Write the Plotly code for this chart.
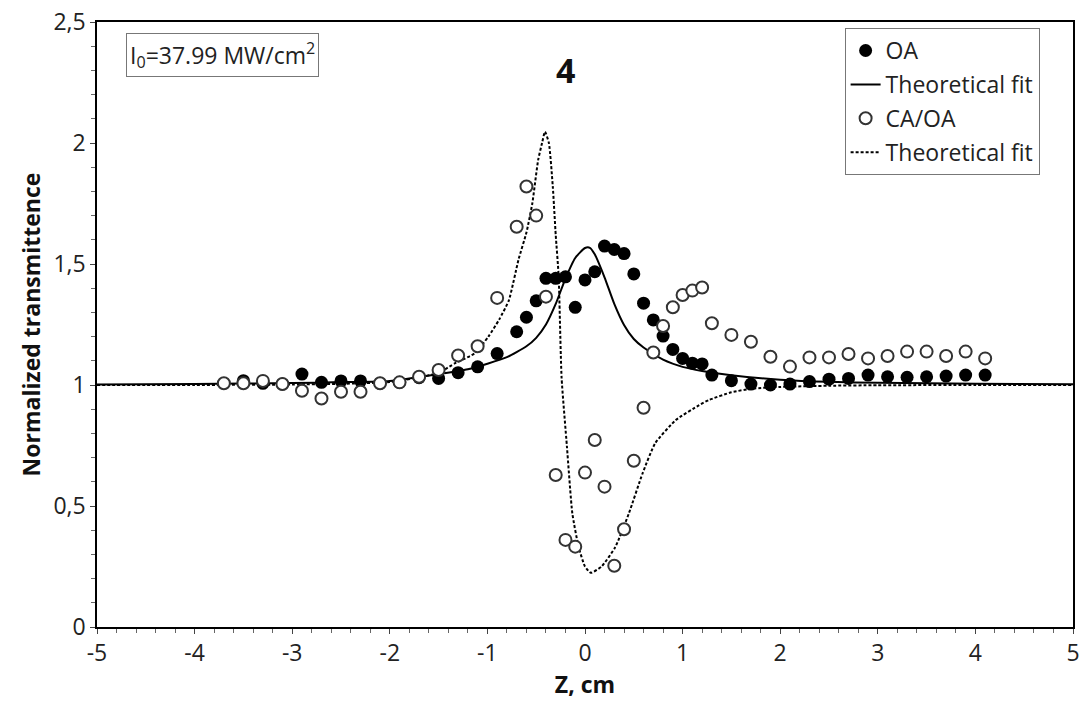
import plotly.graph_objects as go

# ---------------- data ----------------
oa_z = [-3.5, -3.3, -3.1, -2.9, -2.7, -2.5, -2.3, -2.1, -1.9, -1.7, -1.5, -1.3, -1.1, -0.9,
        -0.7, -0.6, -0.5, -0.4, -0.3, -0.2, -0.1, 0.0, 0.1, 0.2, 0.3, 0.4, 0.5, 0.6, 0.7, 0.8,
        0.9, 1.0, 1.1, 1.2, 1.3,
        1.5, 1.7, 1.9, 2.1, 2.3, 2.5, 2.7, 2.9, 3.1, 3.3, 3.5, 3.7, 3.9, 4.1]
oa_t = [1.018, 1.007, 1.004, 1.045, 1.011, 1.017, 1.017, 1.007, 1.011, 1.03, 1.027, 1.051, 1.075, 1.13,
        1.22, 1.28, 1.348, 1.441, 1.441, 1.447, 1.321, 1.434, 1.468, 1.574, 1.56, 1.543, 1.459, 1.338,
        1.269, 1.202, 1.147, 1.11, 1.09, 1.087, 1.041,
        1.018, 1.004, 1.0, 1.004, 1.014, 1.024, 1.027, 1.041, 1.034, 1.032, 1.034, 1.037, 1.041, 1.041]

ca_z = [-3.7, -3.5, -3.3, -3.1, -2.9, -2.7, -2.5, -2.3, -2.1, -1.9, -1.7, -1.5, -1.3, -1.1, -0.9,
        -0.7, -0.6, -0.5, -0.4, -0.3, -0.2, -0.1, 0.0, 0.1, 0.2, 0.3, 0.4, 0.5, 0.6, 0.7, 0.8,
        0.9, 1.0, 1.1, 1.2, 1.3,
        1.5, 1.7, 1.9, 2.1, 2.3, 2.5, 2.7, 2.9, 3.1, 3.3, 3.5, 3.7, 3.9, 4.1]
ca_t = [1.007, 1.007, 1.017, 1.004, 0.976, 0.944, 0.972, 0.972, 1.007, 1.011, 1.034, 1.062, 1.122, 1.16, 1.36,
        1.654, 1.82, 1.70, 1.365, 0.628, 0.36, 0.332, 0.638, 0.773, 0.58, 0.253, 0.404, 0.687, 0.906,
        1.134, 1.244, 1.321, 1.372, 1.39, 1.403, 1.255,
        1.207, 1.179, 1.117, 1.076, 1.114, 1.114, 1.128, 1.11, 1.12, 1.138, 1.138, 1.12, 1.138, 1.11]

fit_oa_z = [-5, -4, -3, -2.5, -2, -1.5, -1.2, -1.0, -0.8, -0.6, -0.5, -0.4, -0.3, -0.2, -0.1,
            0.0, 0.05, 0.1, 0.2, 0.3, 0.4, 0.5, 0.6, 0.8, 1.0, 1.2, 1.5, 2.0, 2.5, 3, 4, 5]
fit_oa_t = [1.002, 1.004, 1.008, 1.012, 1.017, 1.045, 1.065, 1.088, 1.115, 1.16, 1.195, 1.25, 1.335,
            1.44, 1.525, 1.566, 1.567, 1.54, 1.445, 1.335, 1.248, 1.19, 1.155, 1.105, 1.075, 1.058,
            1.04, 1.022, 1.013, 1.009, 1.005, 1.003]

fit_ca_z = [-5, -4, -3, -2.5, -2, -1.67, -1.5, -1.33, -1.13, -0.99, -0.88, -0.78, -0.68, -0.6, -0.54,
            -0.48, -0.44, -0.41, -0.37, -0.33, -0.30, -0.27, -0.24, -0.185, -0.13, -0.065, 0.0, 0.06,
            0.17, 0.31, 0.45, 0.59, 0.72, 0.93, 1.17, 1.27, 1.5, 1.72, 2.0, 2.5, 3, 4, 5]
fit_ca_t = [1.0, 1.0, 1.002, 1.005, 1.012, 1.034, 1.05, 1.09, 1.131, 1.2, 1.27, 1.35, 1.52, 1.63, 1.75,
            1.93, 2.0, 2.047, 2.0, 1.82, 1.62, 1.45, 1.03, 0.745, 0.47, 0.33, 0.25, 0.224,
            0.25, 0.33, 0.47, 0.635, 0.76, 0.855, 0.917, 0.938, 0.97, 0.985, 0.992, 0.997, 0.999, 1.0, 1.0]

x_ticks = [-5, -4, -3, -2, -1, 0, 1, 2, 3, 4, 5]
y_ticks = [0, 0.5, 1, 1.5, 2, 2.5]

FONT = "Open Sans"
fig = go.Figure()

fig.add_trace(go.Scatter(x=fit_oa_z, y=fit_oa_t, mode="lines", name="Theoretical fit",
                         line=dict(color="black", width=2, shape="spline", smoothing=0.6),
                         legendrank=2, legendgroup="b"))
fig.add_trace(go.Scatter(x=fit_ca_z, y=fit_ca_t, mode="lines", name="Theoretical fit",
                         line=dict(color="black", width=2, dash="3px,2px", shape="spline", smoothing=0.5),
                         legendrank=4, legendgroup="d"))
fig.add_trace(go.Scatter(x=oa_z, y=oa_t, mode="markers", name="OA",
                         marker=dict(symbol="circle", size=13, color="black",
                                     line=dict(width=0)),
                         legendrank=1, legendgroup="a"))
fig.add_trace(go.Scatter(x=ca_z, y=ca_t, mode="markers", name="CA/OA",
                         marker=dict(symbol="circle", size=12, color="white",
                                     line=dict(width=2, color="#333333")),
                         legendrank=3, legendgroup="c"))

fig.add_annotation(x=-0.2, y=2.30, xref="x", yref="y", text="<b>4</b>", showarrow=False,
                   font=dict(family=FONT, size=34, color="#111111"))
fig.add_annotation(x=-3.71, y=2.365, xref="x", yref="y",
                   text="I<sub>0</sub>=37.99 MW/cm<sup>2</sup>", showarrow=False,
                   font=dict(family=FONT, size=23, color="#222222"),
                   bordercolor="#777777", borderwidth=1, borderpad=3, bgcolor="white")

axis_common = dict(showgrid=False, zeroline=False, showline=True, linecolor="black", linewidth=1.5,
                   mirror=True, ticks="outside", ticklen=5, tickcolor="#444444", tickwidth=1,
                   automargin=False,
                   tickfont=dict(family=FONT, size=23, color="#222222"))

fig.update_xaxes(range=[-5, 5], tickvals=x_ticks, ticktext=[str(v) for v in x_ticks],
                 minor=dict(dtick=0.2, ticks="outside", ticklen=4, tickcolor="#666666"),
                 title=dict(text="<b>Z, cm</b>", font=dict(family=FONT, size=23, color="#111111"),
                            standoff=0),
                 **axis_common)
fig.update_yaxes(range=[0, 2.5], tickvals=y_ticks,
                 minor=dict(dtick=0.1, ticks="outside", ticklen=4, tickcolor="#666666"),
                 title=dict(text="<b>Normalized transmittence</b>",
                            font=dict(family=FONT, size=23, color="#111111"), standoff=6),
                 **axis_common)

fig.update_layout(
    width=1081, height=702,
    margin=dict(l=97, r=8, t=22, b=75),
    paper_bgcolor="white", plot_bgcolor="white",
    separators=", ",
    showlegend=True,
    legend=dict(x=0.766, y=0.99, xanchor="left", yanchor="top",
                bordercolor="#777777", borderwidth=1, bgcolor="white",
                font=dict(family=FONT, size=23, color="#222222"),
                tracegroupgap=1, itemwidth=30),
    font=dict(family=FONT),
)

fig.write_html("out.html")
